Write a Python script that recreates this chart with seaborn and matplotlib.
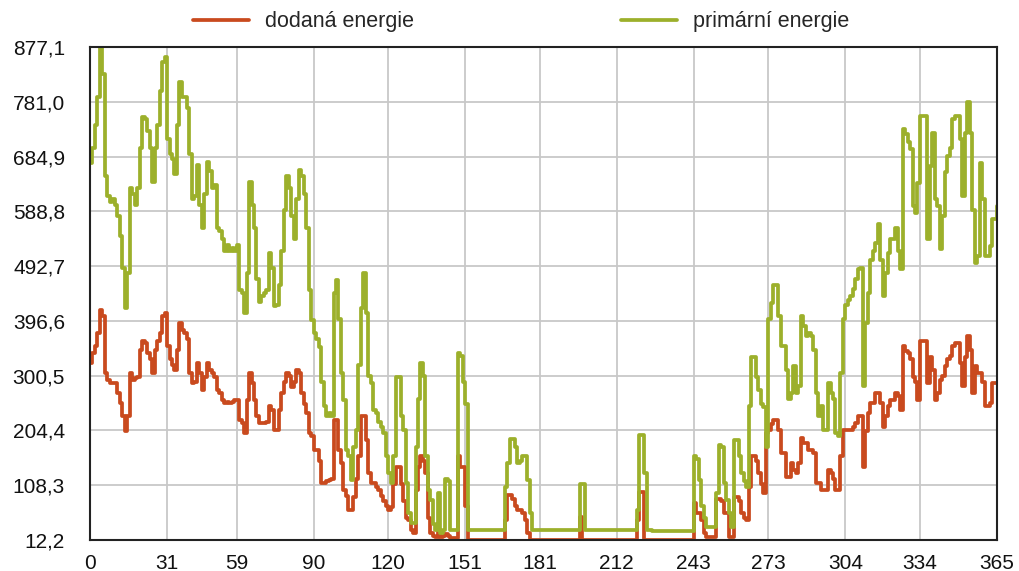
import matplotlib.pyplot as plt
import pandas as pd
import seaborn as sns

# daily values (day 0 .. 365)
days = list(range(366))

dodana = [
    323, 340, 352, 375, 416, 405, 305, 293, 288, 288,
    288, 270, 252, 229, 203, 229, 305, 293, 296, 299,
    346, 361, 358, 340, 329, 305, 346, 361, 375, 405,
    411, 352, 329, 320, 311, 346, 393, 381, 375, 364,
    305, 288, 290, 323, 305, 276, 299, 323, 311, 305,
    299, 276, 270, 258, 252, 255, 252, 255, 258, 258,
    223, 217, 200, 258, 305, 288, 258, 229, 217, 217,
    217, 220, 247, 240, 205, 205, 240, 270, 290, 305,
    300, 280, 290, 311, 305, 270, 250, 235, 200, 195,
    170, 170, 150, 112, 112, 115, 117, 120, 223, 223,
    170, 147, 100, 90, 64, 64, 88, 120, 159, 229,
    229, 188, 130, 112, 112, 105, 100, 90, 80, 71,
    64, 70, 110, 141, 141, 110, 80, 50, 47, 30,
    24, 100, 140, 159, 150, 130, 50, 24, 20, 18,
    30, 18, 20, 22, 20, 15, 15, 15, 159, 140,
    140, 71, 12.2, 12.2, 12.2, 12.2, 12.2, 12.2, 12.2, 12.2,
    12.2, 12.2, 12.2, 12.2, 12.2, 12.2, 12.2, 47, 91, 91,
    85, 71, 65, 65, 60, 47, 24, 12.2, 12.2, 12.2,
    12.2, 12.2, 12.2, 12.2, 12.2, 12.2, 12.2, 12.2, 12.2, 12.2,
    12.2, 12.2, 12.2, 12.2, 12.2, 12.2, 12.2, 53, 12.2, 12.2,
    12.2, 12.2, 12.2, 12.2, 12.2, 12.2, 12.2, 12.2, 12.2, 12.2,
    12.2, 12.2, 12.2, 12.2, 12.2, 12.2, 12.2, 12.2, 12.2, 12.2,
    47, 97, 97, 12.2, 12.2, 12.2, 12.2, 12.2, 12.2, 12.2,
    12.2, 12.2, 12.2, 12.2, 12.2, 12.2, 12.2, 12.2, 12.2, 12.2,
    12.2, 12.2, 12.2, 77, 59, 59, 47, 25, 18, 18,
    18, 18, 85, 85, 80, 59, 59, 18, 18, 88,
    88, 80, 59, 50, 47, 106, 159, 159, 150, 129,
    110, 95, 200, 205, 215, 223, 223, 205, 164, 164,
    123, 123, 147, 135, 129, 147, 191, 182, 182, 170,
    170, 164, 112, 112, 100, 100, 100, 135, 129, 120,
    100, 100, 159, 205, 205, 205, 205, 210, 217, 229,
    229, 141, 203, 235, 252, 252, 270, 270, 252, 211,
    230, 247, 258, 258, 270, 265, 241, 352, 343, 340,
    329, 299, 290, 258, 361, 361, 361, 288, 334, 311,
    258, 270, 293, 300, 317, 329, 335, 352, 358, 358,
    323, 282, 334, 370, 346, 270, 317, 305, 305, 290,
    247, 247, 252, 288, 288, 288,
]

primarni = [
    674, 700, 740, 790, 877.1, 830, 650, 615, 605, 610,
    600, 580, 545, 490, 420, 480, 630, 620, 600, 630,
    700, 755, 750, 730, 700, 640, 700, 740, 800, 850,
    860, 715, 690, 680, 655, 740, 815, 790, 790, 770,
    690, 610, 615, 670, 600, 560, 620, 675, 660, 630,
    635, 560, 555, 540, 520, 530, 520, 525, 520, 530,
    450, 445, 410, 480, 640, 600, 560, 470, 430, 440,
    445, 450, 516, 490, 422, 425, 460, 520, 592, 650,
    630, 580, 540, 610, 662, 650, 620, 560, 450, 399,
    375, 364, 350, 290, 247, 229, 235, 230, 446, 469,
    400, 305, 258, 170, 159, 117, 176, 205, 320, 420,
    481, 411, 300, 288, 240, 235, 220, 211, 200, 159,
    130, 112, 160, 299, 299, 230, 205, 112, 60, 42,
    42, 176, 260, 323, 300, 159, 100, 82, 40, 30,
    95, 25, 30, 120, 115, 30, 30, 30, 340, 335,
    290, 250, 30, 30, 30, 30, 30, 30, 30, 30,
    30, 30, 30, 30, 30, 30, 30, 106, 147, 190,
    190, 175, 147, 150, 159, 159, 117, 59, 30, 30,
    30, 30, 30, 30, 30, 30, 30, 30, 30, 30,
    30, 30, 30, 30, 30, 30, 30, 110, 110, 30,
    30, 30, 30, 30, 30, 30, 30, 30, 30, 30,
    30, 30, 30, 30, 30, 30, 30, 30, 30, 30,
    65, 197, 197, 129, 30, 30, 28, 28, 28, 28,
    28, 28, 28, 28, 28, 28, 28, 28, 28, 28,
    28, 28, 28, 159, 155, 117, 71, 50, 35, 35,
    35, 35, 94, 179, 175, 112, 82, 60, 35, 188,
    188, 159, 129, 115, 106, 247, 334, 334, 299, 276,
    250, 245, 176, 400, 428, 460, 460, 405, 352, 352,
    311, 260, 270, 317, 270, 282, 405, 387, 370, 375,
    370, 346, 270, 230, 247, 205, 205, 288, 270, 260,
    200, 194, 305, 400, 425, 434, 440, 452, 470, 487,
    490, 282, 393, 446, 504, 520, 533, 566, 504, 440,
    480, 516, 540, 540, 560, 520, 487, 733, 724, 710,
    698, 598, 586, 639, 756, 756, 756, 540, 668, 727,
    610, 598, 522, 580, 657, 686, 700, 750, 756, 756,
    715, 616, 727, 780, 727, 592, 498, 510, 674, 610,
    510, 510, 528, 575, 575, 598,
]

x_ticks = [0, 31, 59, 90, 120, 151, 181, 212, 243, 273, 304, 334, 365]
y_ticks = [12.2, 108.3, 204.4, 300.5, 396.6, 492.7, 588.8, 684.9, 781.0, 877.1]
y_labels = ["12,2", "108,3", "204,4", "300,5", "396,6",
            "492,7", "588,8", "684,9", "781,0", "877,1"]

red = "#C94A1E"
green = "#9CB02B"

df = pd.DataFrame({"den": days, "dodaná energie": dodana, "primární energie": primarni})

sns.set_theme(style="whitegrid")
plt.rcParams["font.family"] = ["Liberation Sans", "DejaVu Sans"]

fig = plt.figure(figsize=(10.2, 5.71), dpi=100)
ax = fig.add_axes([90 / 1020, 31 / 571, 907 / 1020, 493 / 571])

sns.lineplot(data=df, x="den", y="dodaná energie", color=red, lw=2.7,
             drawstyle="steps-post", estimator=None, label="dodaná energie", ax=ax)
sns.lineplot(data=df, x="den", y="primární energie", color=green, lw=2.7,
             drawstyle="steps-post", estimator=None, label="primární energie", ax=ax)

ax.set_xlim(0, 365)
ax.set_ylim(12.2, 877.1)
ax.set_xticks(x_ticks)
ax.set_yticks(y_ticks)
ax.set_yticklabels(y_labels)
ax.set_xlabel("")
ax.set_ylabel("")
ax.tick_params(axis="both", length=0, labelsize=15, colors="#111111")
ax.tick_params(axis="y", pad=18)
ax.tick_params(axis="x", pad=10)
ax.grid(True, color="#C8C8C8", lw=1.3)
for sp in ax.spines.values():
    sp.set_color("#222222")
    sp.set_linewidth(1.5)

handles, labels = ax.get_legend_handles_labels()
ax.get_legend().remove()
fig.legend(handles, labels, loc="center", bbox_to_anchor=(521 / 1020, 1 - 22 / 571),
           ncol=2, frameon=False, fontsize=15.5, handlelength=2.6,
           handletextpad=0.75, columnspacing=9.6)

fig.savefig("out.png", dpi=100)
